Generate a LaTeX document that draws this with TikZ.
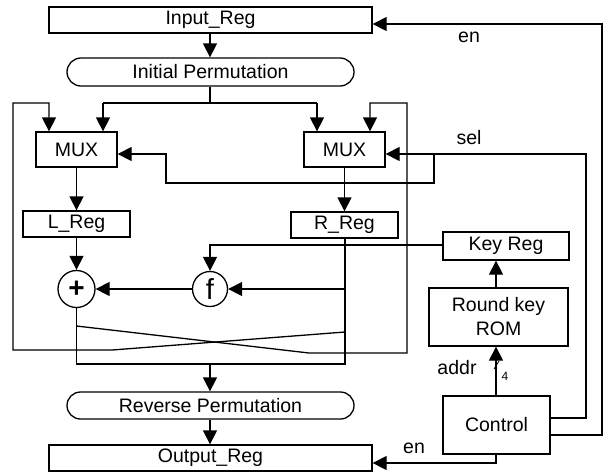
\documentclass[tikz,border=0pt]{standalone}
\usepackage{fontspec}
\setmainfont{Liberation Sans}
\usetikzlibrary{arrows.meta,shapes.misc}
\begin{document}
\begin{tikzpicture}[x=1pt,y=-1pt,
  line width=1.3pt,
  every node/.style={font=\fontsize{19.5}{23}\selectfont, inner sep=0pt},
  box/.style={draw, rectangle},
  pill/.style={draw, rounded rectangle},
  circ/.style={draw, circle},
  arr/.style={-{Triangle[length=14pt,width=14pt]}},
  lbl/.style={anchor=base}
]
\useasboundingbox (0,0) rectangle (604,472);
% nodes
\node[box, minimum width=323pt, minimum height=26pt] (inreg) at (210.5,20) {Input\_Reg};
\node[pill, minimum width=287pt, minimum height=28pt] (ip) at (210.5,72) {Initial Permutation};
\node[box, minimum width=81pt, minimum height=35pt] (muxL) at (76.5,149.5) {MUX};
\node[box, minimum width=81pt, minimum height=35pt] (muxR) at (344.5,149.5) {MUX};
\node[box, minimum width=107pt, minimum height=26pt] (lreg) at (76.5,224) {L\_Reg};
\node[box, minimum width=107pt, minimum height=26pt] (rreg) at (344.5,225) {R\_Reg};
\node[circ, minimum size=37pt, font=\fontsize{28}{30}\selectfont\bfseries] (plus) at (76.5,289) {+};
\node[circ, minimum size=35pt, font=\fontsize{29}{30}\selectfont] (f) at (210,289) {f};
\node[box, minimum width=126pt, minimum height=28pt] (keyreg) at (506,246) {Key Reg};
\node[box, minimum width=139pt, minimum height=58pt, align=center] (rom) at (498.5,317) {Round key\\[1pt]ROM};
\node[box, minimum width=107pt, minimum height=58pt] (ctrl) at (496.5,425) {Control};
\node[pill, minimum width=287pt, minimum height=27pt] (rp) at (210.5,405.5) {Reverse Permutation};
\node[box, minimum width=323pt, minimum height=26pt] (outreg) at (210.5,458) {Output\_Reg};
% coordinates
\coordinate (ipb) at (210,103);
\coordinate (sL) at (103,103);
\coordinate (sR) at (317,103);
\coordinate (jo) at (210,364);
% main path
\draw (ip.south -| ipb) -- (ipb);
\draw (sL) -- (sR);
\draw[arr] (sL) -- (sL |- muxL.north);
\draw[arr] (sR) -- (sR |- muxR.north);
\draw[arr] (inreg.south -| ipb) -- (ip.north -| ipb);
\draw[arr] (muxL.south -| lreg) -- (lreg.north);
\draw[arr] (muxR.south) -- (rreg.north);
\draw[arr] (lreg.south -| plus) -- (plus.north);
% outputs to reverse permutation
\draw (plus.south) -- (76.5,364) -- (345,364) -- (rreg.south -| 345,0);
\draw[arr] (jo) -- (rp.north -| jo);
\draw[arr] (rp.south -| jo) -- (outreg.north -| jo);
% feistel swap
\coordinate (lt) at (49,103);
\draw[arr] (345,332) -- (112,350) -- (13,350) -- (13,103) -- (lt) -- (lt |- muxL.north);
\coordinate (rt) at (370,103);
\draw[arr] (76.5,326) -- (309,353) -- (407,353) -- (407,103) -- (rt) -- (rt |- muxR.north);
% f connections
\draw[arr] (345,289) -- (f.east);
\draw[arr] (f.west) -- (plus.east);
\draw[arr] (keyreg.west |- 0,245) -- (210,245) -- (f.north);
% key path
\draw[arr] (rom.north -| 496,0) -- (keyreg.south -| 496,0);
\draw[arr] (ctrl.north -| 496,0) -- (rom.south -| 496,0);
\draw[line width=0.8pt] (494,369) -- (499,361);
\node[font=\fontsize{12}{14}\selectfont, anchor=base west] (four) at (501,380) {4};
\node[lbl] (addr) at (457,374) {addr};
% control lines
\draw[arr] (ctrl.south -| 496,0) -- (496,463) -- (outreg.east |- 0,463);
\node[lbl] (en2) at (414,453) {en};
\draw[arr] (ctrl.east |- 0,435) -- (602,435) -- (602,24) -- (inreg.east |- 0,24);
\node[lbl] (en1) at (469,42) {en};
\draw[arr] (ctrl.east |- 0,418) -- (586,418) -- (586,154) -- (muxR.east |- 0,154);
\node[lbl] (sel) at (469,144) {sel};
\draw[arr] (434,154) -- (434,183) -- (166,183) -- (166,154) -- (muxL.east |- 0,154);
\end{tikzpicture}
\end{document}
